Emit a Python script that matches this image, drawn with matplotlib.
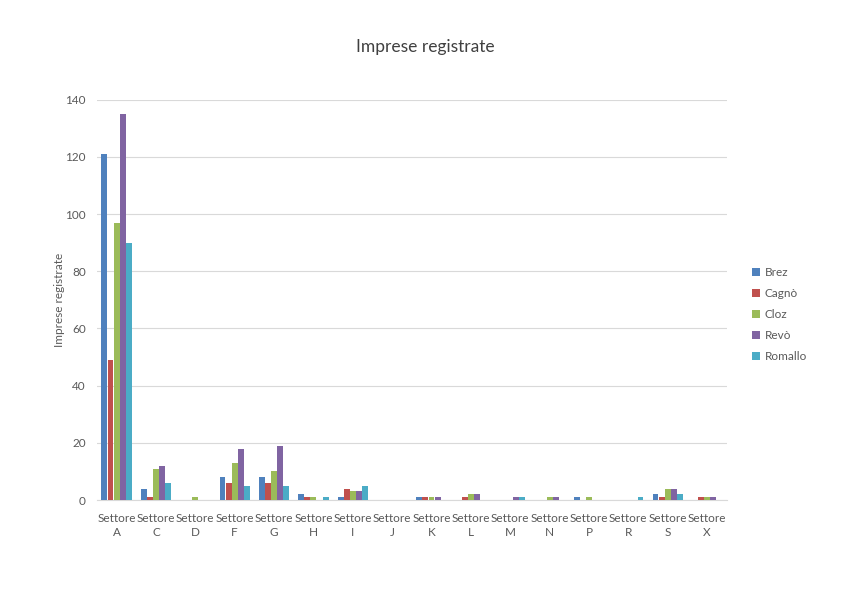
import numpy as np
import matplotlib.pyplot as plt
from matplotlib.patches import Patch

plt.rcParams['font.family'] = ['Lato', 'DejaVu Sans']

settori = ['A', 'C', 'D', 'F', 'G', 'H', 'I', 'J', 'K', 'L', 'M', 'N', 'P', 'R', 'S', 'X']
comuni = ['Brez', 'Cagnò', 'Cloz', 'Revò', 'Romallo']
colori = ['#4F81BD', '#C0504D', '#9BBB59', '#8064A2', '#4BACC6']

brez = [121, 4, 0, 8, 8, 2, 1, 0, 1, 0, 0, 0, 1, 0, 2, 0]
cagno = [49, 1, 0, 6, 6, 1, 4, 0, 1, 1, 0, 0, 0, 0, 1, 1]
cloz = [97, 11, 1, 13, 10, 1, 3, 0, 1, 2, 0, 1, 1, 0, 4, 1]
revo = [135, 12, 0, 18, 19, 0, 3, 0, 1, 2, 1, 1, 0, 0, 4, 1]
romallo = [90, 6, 0, 5, 5, 1, 5, 0, 0, 0, 1, 0, 0, 1, 2, 0]
serie = [brez, cagno, cloz, revo, romallo]

grigio = '#595959'

fig = plt.figure(figsize=(8.5, 6.01), dpi=100)
ax = fig.add_axes([0.114, 0.168, 0.741, 0.666])

x = np.arange(len(settori))
w = 0.15
for i, (nome, vals) in enumerate(zip(comuni, serie)):
    ax.bar(x + (i - 2) * 0.155, vals, width=w, color=colori[i], label=nome, zorder=3)

ax.set_xlim(-0.5, len(settori) - 0.5)
ax.set_ylim(0, 140)
ax.set_yticks(range(0, 141, 20))
ax.yaxis.grid(True, color='#D9D9D9', linewidth=0.8, zorder=0)
ax.set_xticks(x)
ax.set_xticklabels(['Settore\n' + s for s in settori], linespacing=1.4)
ax.tick_params(axis='both', length=0, colors=grigio, labelsize=8.5)
ax.tick_params(axis='x', pad=9)
ax.tick_params(axis='y', pad=8)
for s in ['top', 'right', 'left']:
    ax.spines[s].set_visible(False)
ax.spines['bottom'].set_color('#D9D9D9')

ax.set_ylabel('Imprese registrate', color=grigio, fontsize=8.5, labelpad=0)
fig.text(0.5, 0.922, 'Imprese registrate', ha='center', va='center',
         fontsize=12.5, color='#404040')

handles = [Patch(facecolor=c) for c in colori]
leg = fig.legend(handles, comuni, loc='center left', bbox_to_anchor=(0.872, 0.476),
                 frameon=False, fontsize=8.5, handlelength=0.7, handleheight=0.7,
                 handletextpad=0.4, labelspacing=0.85)
for t in leg.get_texts():
    t.set_color(grigio)

fig.savefig('out.png', dpi=100, facecolor='white')
